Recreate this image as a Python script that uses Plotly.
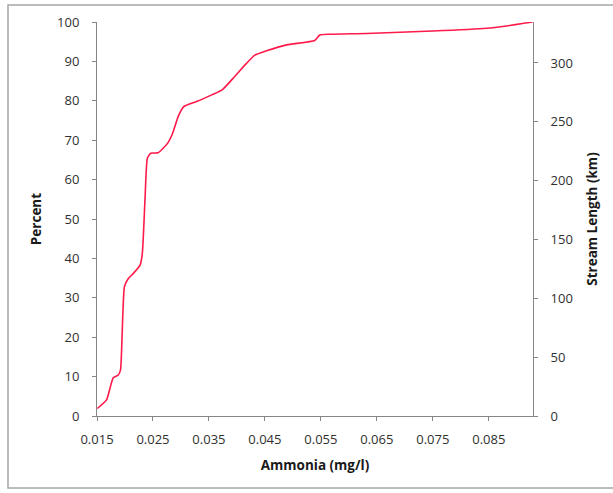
import plotly.graph_objects as go

ammonia = [0.01505, 0.0167, 0.0179, 0.0188, 0.0192, 0.0199, 0.0206, 0.0215, 0.0227,
           0.0231, 0.0236, 0.0240, 0.0246, 0.0259, 0.0276, 0.0285, 0.0295, 0.0305,
           0.0328, 0.0355, 0.0373, 0.0393, 0.0417, 0.0432, 0.0453, 0.0489, 0.0539,
           0.0548, 0.0566, 0.0632, 0.0750, 0.0846, 0.0882, 0.0928]
percent = [1.9, 4.1, 9.7, 10.4, 11.7, 32.8, 34.9, 36.2, 38.3,
           41.3, 55.7, 65.4, 66.7, 66.8, 69.2, 71.7, 76.0, 78.5,
           79.8, 81.5, 82.7, 85.7, 89.5, 91.6, 92.7, 94.2, 95.3,
           96.7, 96.9, 97.1, 97.7, 98.4, 99.0, 100.0]

x_ticks = [0.015, 0.025, 0.035, 0.045, 0.055, 0.065, 0.075, 0.085]
x_tick_labels = ["0.015", "0.025", "0.035", "0.045", "0.055", "0.065", "0.075", "0.085"]
y_ticks = [0, 10, 20, 30, 40, 50, 60, 70, 80, 90, 100]
y2_ticks = [0, 50, 100, 150, 200, 250, 300]

W, H = 613, 493
L, R, T, B = 97, 533, 22, 416

fig = go.Figure()
fig.add_trace(go.Scatter(x=ammonia, y=percent, mode="lines",
                         line=dict(color="#ff1a4a", width=1.6, shape="spline", smoothing=0.5),
                         hoverinfo="x+y", showlegend=False))
fig.add_trace(go.Scatter(x=[None], y=[None], yaxis="y2", mode="lines", showlegend=False,
                         hoverinfo="skip"))

axcol = "#868686"
txt = "#303030"
ttl = "#1a1a1a"
font_fam = "Open Sans, sans-serif"

fig.update_layout(
    width=W, height=H,
    margin=dict(l=L, r=W - R, t=T, b=H - B, pad=0),
    paper_bgcolor="white", plot_bgcolor="white",
    font=dict(family=font_fam, size=13, color=txt),
    showlegend=False,
    xaxis=dict(range=[0.015, 0.0929], tickvals=x_ticks, ticktext=x_tick_labels,
               showgrid=False, zeroline=False, showline=True, linecolor=axcol, linewidth=1,
               ticks="outside", ticklen=4, tickcolor=axcol, ticklabelstandoff=7,
               title=dict(text="<b>Ammonia (mg/l)</b>", font=dict(size=13.5, color=ttl), standoff=13)),
    yaxis=dict(range=[0, 100], tickvals=y_ticks, showgrid=False, zeroline=False,
               showline=True, linecolor=axcol, linewidth=1, ticks="outside", ticklen=4,
               tickcolor=axcol, ticklabelstandoff=10,
               title=dict(text="<b>Percent</b>", font=dict(size=13.5, color=ttl), standoff=12)),
    yaxis2=dict(range=[0, 334.8], tickvals=y2_ticks, overlaying="y", side="right",
                showgrid=False, zeroline=False, showline=True, linecolor=axcol, linewidth=1,
                ticks="outside", ticklen=4, tickcolor=axcol, ticklabelstandoff=10,
                title=dict(text="<b>Stream Length (km)</b>", font=dict(size=13.5, color=ttl), standoff=15)),
)

pw, ph = R - L, B - T
fig.add_shape(type="rect", xref="paper", yref="paper",
              x0=(8 - L) / pw, x1=(660 - L) / pw,
              y0=(B - 488) / ph, y1=(B - 5) / ph,
              line=dict(color="#a6a6a6", width=1.5), layer="below")

fig.write_html("out.html", config={"displayModeBar": False},
               post_script="document.body.style.margin='0px';")
